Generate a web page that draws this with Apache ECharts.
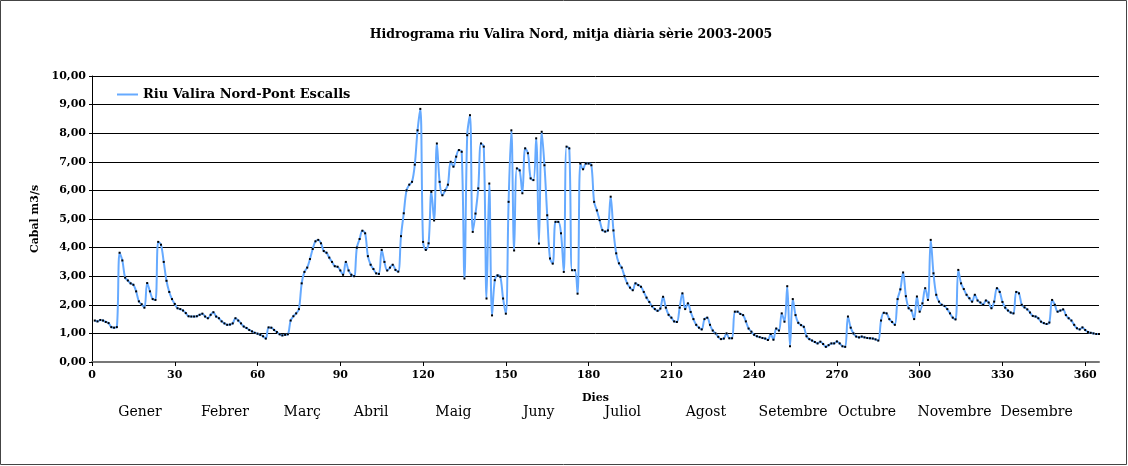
<!DOCTYPE html>
<html>
<head>
<meta charset="utf-8">
<script src="https://cdn.jsdelivr.net/npm/echarts@6/dist/echarts.min.js"></script>
<style>
  html, body { margin: 0; padding: 0; background: #fff; }
  #chart { width: 1128px; height: 466px; }
</style>
</head>
<body>
<div id="chart"></div>
<script>
// cabal mitjà diari (m3/s), dies 1..365
const cabal = [
  1.45, 1.42, 1.47, 1.45, 1.40, 1.36, 1.22, 1.20, 1.22, 3.82,
  3.55, 2.95, 2.85, 2.75, 2.70, 2.47, 2.12, 2.02, 1.90, 2.76,
  2.47, 2.20, 2.17, 4.20, 4.10, 3.50, 2.84, 2.45, 2.20, 2.03,
  1.88, 1.85, 1.80, 1.71, 1.60, 1.59, 1.59, 1.60, 1.65, 1.69,
  1.59, 1.53, 1.65, 1.74, 1.59, 1.53, 1.42, 1.35, 1.30, 1.31,
  1.35, 1.53, 1.45, 1.35, 1.24, 1.19, 1.12, 1.07, 1.02, 0.99,
  0.95, 0.90, 0.82, 1.21, 1.20, 1.12, 1.05, 0.97, 0.93, 0.95,
  0.97, 1.45, 1.60, 1.70, 1.85, 2.75, 3.15, 3.30, 3.60, 3.95,
  4.22, 4.27, 4.15, 3.88, 3.82, 3.65, 3.50, 3.35, 3.33, 3.20,
  3.05, 3.50, 3.20, 3.05, 3.00, 4.00, 4.30, 4.59, 4.50, 3.70,
  3.40, 3.25, 3.10, 3.08, 3.92, 3.50, 3.20, 3.30, 3.40, 3.22,
  3.16, 4.40, 5.20, 6.00, 6.20, 6.30, 6.90, 8.10, 8.85, 4.20,
  3.92, 4.15, 5.95, 4.95, 7.64, 6.30, 5.83, 6.00, 6.20, 7.00,
  6.83, 7.18, 7.41, 7.35, 2.92, 7.93, 8.63, 4.55, 5.19, 6.07,
  7.64, 7.53, 2.22, 6.24, 1.63, 2.86, 3.03, 2.98, 2.22, 1.69,
  5.60, 8.10, 3.90, 6.77, 6.70, 5.90, 7.47, 7.30, 6.42, 6.36,
  7.82, 4.14, 8.05, 6.88, 5.13, 3.62, 3.44, 4.90, 4.90, 4.50,
  3.15, 7.53, 7.47, 3.21, 3.21, 2.39, 6.94, 6.74, 6.94, 6.94,
  6.88, 5.60, 5.30, 4.96, 4.61, 4.56, 4.60, 5.78, 4.60, 3.80,
  3.45, 3.30, 3.00, 2.75, 2.60, 2.51, 2.75, 2.69, 2.63, 2.45,
  2.25, 2.10, 1.95, 1.85, 1.79, 1.87, 2.28, 1.90, 1.65, 1.55,
  1.42, 1.40, 1.90, 2.40, 1.85, 2.05, 1.75, 1.50, 1.30, 1.20,
  1.14, 1.50, 1.55, 1.30, 1.10, 1.00, 0.88, 0.80, 0.82, 1.00,
  0.83, 0.83, 1.76, 1.76, 1.68, 1.64, 1.42, 1.17, 1.06, 0.95,
  0.90, 0.87, 0.84, 0.82, 0.77, 0.98, 0.78, 1.17, 1.10, 1.70,
  1.41, 2.65, 0.55, 2.20, 1.64, 1.37, 1.29, 1.23, 0.90, 0.80,
  0.75, 0.70, 0.65, 0.71, 0.63, 0.53, 0.59, 0.65, 0.65, 0.72,
  0.65, 0.55, 0.53, 1.59, 1.20, 1.00, 0.89, 0.86, 0.89, 0.86,
  0.84, 0.83, 0.82, 0.79, 0.75, 1.45, 1.72, 1.70, 1.50, 1.40,
  1.30, 2.20, 2.54, 3.13, 2.30, 1.88, 1.80, 1.50, 2.29, 1.76,
  2.05, 2.58, 2.17, 4.27, 3.10, 2.35, 2.11, 2.00, 1.96, 1.85,
  1.70, 1.55, 1.49, 3.22, 2.75, 2.55, 2.35, 2.23, 2.11, 2.35,
  2.15, 2.08, 2.00, 2.15, 2.08, 1.88, 2.11, 2.58, 2.45, 2.10,
  1.90, 1.80, 1.73, 1.70, 2.45, 2.40, 2.00, 1.91, 1.84, 1.73,
  1.61, 1.59, 1.53, 1.41, 1.36, 1.33, 1.38, 2.17, 2.00, 1.76,
  1.80, 1.84, 1.64, 1.53, 1.45, 1.30, 1.18, 1.14, 1.21, 1.12,
  1.05, 1.02, 1.00, 0.98, 0.98
]

// noms dels mesos i dia on es col·loca cada rètol
const mesos = ['Gener', 'Febrer', 'Març', 'Abril', 'Maig', 'Juny', 'Juliol',
  'Agost', 'Setembre', 'Octubre', 'Novembre', 'Desembre']
const diaMes = [17.4, 48.2, 76.2, 101.2, 131, 161.9, 192.4, 222.5, 254.1, 280.9, 312.6, 342.4]

const serieNom = 'Riu Valira Nord-Pont Escalls'
const titol = 'Hidrograma riu Valira Nord, mitja diària sèrie 2003-2005'

const punts = cabal.map((v, i) => [i + 1, v])

const chart = echarts.init(document.getElementById('chart'), null, { renderer: 'canvas' })

const fontBold = { fontFamily: 'DejaVu Serif', fontWeight: 'bold', color: '#000' }

const option = {
  backgroundColor: '#fff',
  animation: false,
  title: {
    text: titol,
    left: 566,
    top: 23,
    textAlign: 'center',
    textStyle: { ...fontBold, fontSize: 12.5 }
  },
  legend: {
    left: 117,
    top: 88,
    padding: 0,
    icon: 'rect',
    itemWidth: 21,
    itemHeight: 2,
    itemGap: 5,
    data: [serieNom],
    itemStyle: { color: '#66aaff' },
    textStyle: { ...fontBold, fontSize: 13, padding: [0, 0, 0, 0] }
  },
  grid: {
    left: 92,
    right: 29,
    top: 76,
    bottom: 104,
    containLabel: false
  },
  xAxis: [
    {
      type: 'value',
      min: 0,
      max: 365,
      interval: 30,
      name: 'Dies',
      nameLocation: 'middle',
      nameGap: 31,
      nameTextStyle: { ...fontBold, fontSize: 11 },
      axisLine: { show: true, lineStyle: { color: '#777', width: 2 } },
      axisTick: { show: true, length: 4, lineStyle: { color: '#000' } },
      axisLabel: { ...fontBold, fontSize: 11, margin: 8, showMaxLabel: false },
      splitLine: { show: false }
    },
    {
      type: 'value',
      position: 'bottom',
      min: 0,
      max: 365,
      axisLine: { show: false },
      axisTick: { show: false },
      splitLine: { show: false },
      axisLabel: {
        customValues: diaMes,
        margin: 43,
        fontFamily: 'DejaVu Serif',
        fontSize: 14,
        color: '#000',
        formatter: (v) => mesos[diaMes.indexOf(v)] || ''
      }
    }
  ],
  yAxis: {
    type: 'value',
    min: 0,
    max: 10,
    interval: 1,
    name: 'Cabal m3/s',
    nameLocation: 'middle',
    nameGap: 47,
    nameRotate: 90,
    nameTextStyle: { ...fontBold, fontSize: 11 },
    axisLine: { show: true, lineStyle: { color: '#000', width: 1 } },
    axisTick: { show: true, length: 3, lineStyle: { color: '#000' } },
    axisLabel: {
      ...fontBold,
      fontSize: 11,
      margin: 6,
      formatter: (v) => v.toFixed(2).replace('.', ',')
    },
    splitLine: { show: true, lineStyle: { color: '#000', width: 1 } }
  },
  graphic: [
    {
      type: 'rect',
      shape: { x: 0.5, y: 0.5, width: 1126, height: 464 },
      style: { fill: 'none', stroke: '#444', lineWidth: 1 },
      silent: true
    }
  ],
  series: [
    {
      name: serieNom,
      type: 'line',
      data: punts,
      smooth: 0.35,
      showSymbol: true,
      showAllSymbol: true,
      symbol: 'rect',
      symbolSize: 2,
      itemStyle: { color: '#000' },
      lineStyle: { color: '#66aaff', width: 2 },
      z: 3
    }
  ]
}

chart.setOption(option)
</script>
</body>
</html>
